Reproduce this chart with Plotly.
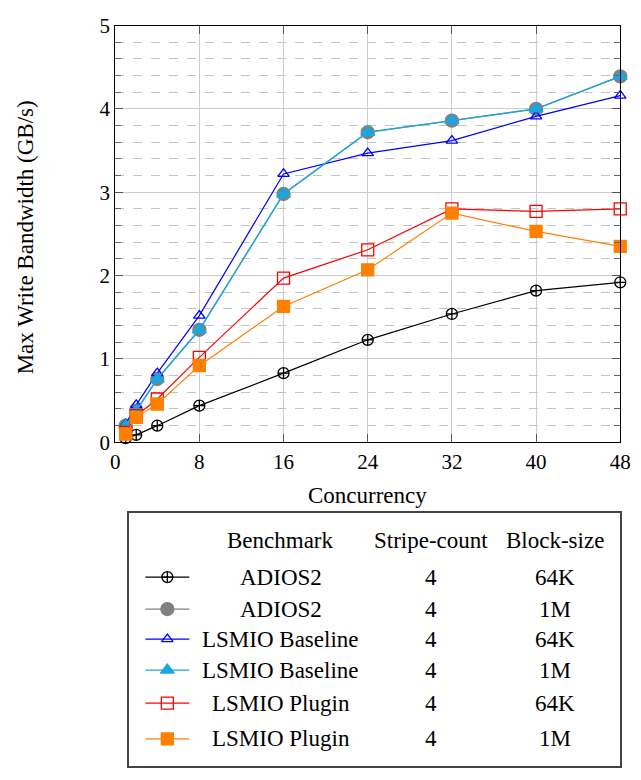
import plotly.graph_objects as go

# ---------------- data ----------------
concurrency = [1, 2, 4, 8, 16, 24, 32, 40, 48]

adios2_64k = [0.05, 0.09, 0.20, 0.44, 0.83, 1.23, 1.54, 1.82, 1.92]
adios2_1m = [0.20, 0.38, 0.76, 1.35, 2.98, 3.72, 3.86, 4.00, 4.39]
lsmio_base_64k = [0.22, 0.45, 0.83, 1.52, 3.22, 3.47, 3.62, 3.91, 4.16]
lsmio_base_1m = [0.20, 0.38, 0.76, 1.35, 2.98, 3.72, 3.86, 4.00, 4.39]
lsmio_plug_64k = [0.12, 0.32, 0.52, 1.02, 1.97, 2.31, 2.80, 2.77, 2.80]
lsmio_plug_1m = [0.10, 0.30, 0.46, 0.92, 1.63, 2.07, 2.75, 2.53, 2.35]

benchmarks = ["ADIOS2", "ADIOS2", "LSMIO Baseline", "LSMIO Baseline", "LSMIO Plugin", "LSMIO Plugin"]
stripe_counts = ["4", "4", "4", "4", "4", "4"]
block_sizes = ["64K", "1M", "64K", "1M", "64K", "1M"]
headers = ["Benchmark", "Stripe-count", "Block-size"]

x_ticks = [0, 8, 16, 24, 32, 40, 48]
y_ticks = [0, 1, 2, 3, 4, 5]

# ---------------- styles ----------------
FONT = "Liberation Serif"
FS = 23
TFS = 21
series = [
    (adios2_64k, "#000000", "circle-cross-open", 11, 1.2),
    (adios2_1m, "#808080", "circle", 13, 1.2),
    (lsmio_base_64k, "#0000ff", "triangle-up-open", 10, 1.2),
    (lsmio_base_1m, "#1aa7e0", "triangle-up", 12, 1.4),
    (lsmio_plug_64k, "#ff0000", "square-open", 12, 1.2),
    (lsmio_plug_1m, "#ff8000", "square", 12, 1.2),
]

W, H = 641, 780
px_l, px_r, px_t, px_b = 113, 631, 14, 444
lg_l, lg_r, lg_t, lg_b = 127, 631, 517, 778

fig = go.Figure()

for vals, col, sym, size, lw in series:
    fig.add_trace(go.Scatter(
        x=concurrency, y=vals, mode="lines+markers",
        line=dict(color=col, width=lw),
        marker=dict(symbol=sym, size=size, color=col,
                    line=dict(color=col, width=1.3)),
        xaxis="x", yaxis="y", showlegend=False, cliponaxis=False,
    ))

# legend table samples (drawn in a second, pixel-scaled axes)
row_y = [583, 616, 647, 679, 713, 750]
for (vals, col, sym, size, lw), ry in zip(series, row_y):
    fig.add_trace(go.Scatter(
        x=[144, 189], y=[ry, ry], mode="lines",
        line=dict(color=col, width=lw), xaxis="x2", yaxis="y2",
        showlegend=False, hoverinfo="skip"))
    fig.add_trace(go.Scatter(
        x=[166.5], y=[ry], mode="markers",
        marker=dict(symbol=sym, size=size, color=col,
                    line=dict(color=col, width=1.3)),
        xaxis="x2", yaxis="y2", showlegend=False, hoverinfo="skip"))

annotations = []
col_x = [283, 437, 564]
for hx, h in zip(col_x, headers):
    annotations.append(dict(x=hx, y=545, xref="x2", yref="y2", text=h,
                            xanchor="center", yanchor="middle",
                            showarrow=False, font=dict(family=FONT, size=FS, color="black")))
for ry, b, s, k in zip(row_y, benchmarks, stripe_counts, block_sizes):
    for cx, t in zip(col_x, [b, s, k]):
        annotations.append(dict(x=cx, y=ry, xref="x2", yref="y2", text=t,
                                xanchor="center", yanchor="middle",
                                showarrow=False, font=dict(family=FONT, size=FS, color="black")))

annotations.append(dict(x=(px_l + px_r) / 2 / W, y=1 - 499 / H, xref="paper", yref="paper",
                        text="Concurrency", showarrow=False,
                        xanchor="center", yanchor="middle",
                        font=dict(family=FONT, size=FS, color="black")))
annotations.append(dict(x=21 / W, y=1 - 232 / H, xref="paper", yref="paper",
                        text="Max Write Bandwidth (GB/s)", textangle=-90, showarrow=False,
                        xanchor="center", yanchor="middle",
                        font=dict(family=FONT, size=FS, color="black")))

fig.update_layout(
    width=W, height=H,
    margin=dict(l=0, r=0, t=0, b=0),
    paper_bgcolor="white", plot_bgcolor="white",
    font=dict(family=FONT, size=TFS, color="black"),
    annotations=annotations,
    xaxis=dict(
        domain=[px_l / W, px_r / W], anchor="y",
        range=[0, 48], tickvals=x_ticks, ticks="inside", ticklen=8, tickcolor="#555555",
        showline=True, linecolor="black", linewidth=1.2, mirror="allticks",
        showgrid=True, gridcolor="#cccccc", gridwidth=1, zeroline=False,
        tickfont=dict(family=FONT, size=TFS), ticklabeloverflow="allow",
    ),
    yaxis=dict(
        domain=[1 - px_b / H, 1 - px_t / H], anchor="x",
        range=[0, 5], tickvals=y_ticks, ticks="inside", ticklen=8, tickcolor="#555555",
        showline=True, linecolor="black", linewidth=1.2, mirror="allticks",
        showgrid=True, gridcolor="#cccccc", gridwidth=1, zeroline=False,
        tickfont=dict(family=FONT, size=TFS), ticklabeloverflow="allow",
        minor=dict(dtick=0.2, showgrid=True, gridcolor="#c4c4c4", griddash="dash",
                   gridwidth=1, ticks="inside", ticklen=6, tickcolor="#666666"),
    ),
    xaxis2=dict(
        domain=[lg_l / W, lg_r / W], anchor="y2", range=[lg_l, lg_r],
        showgrid=False, zeroline=False, showticklabels=False, ticks="",
        showline=True, linecolor="#444444", linewidth=1.5, mirror=True,
    ),
    yaxis2=dict(
        domain=[1 - lg_b / H, 1 - lg_t / H], anchor="x2", range=[lg_b, lg_t],
        showgrid=False, zeroline=False, showticklabels=False, ticks="",
        showline=True, linecolor="#444444", linewidth=1.5, mirror=True,
    ),
)

post = (
    "document.documentElement.style.margin='0';"
    "document.documentElement.style.overflow='hidden';"
    "document.body.style.margin='0';"
    "document.body.style.overflow='hidden';"
    "var gd=document.querySelector('.plotly-graph-div');"
    "gd.style.overflow='hidden';"
    "gd.querySelectorAll('svg').forEach(function(s){s.style.overflow='hidden';});"
)
fig.write_html("out.html", post_script=post)
